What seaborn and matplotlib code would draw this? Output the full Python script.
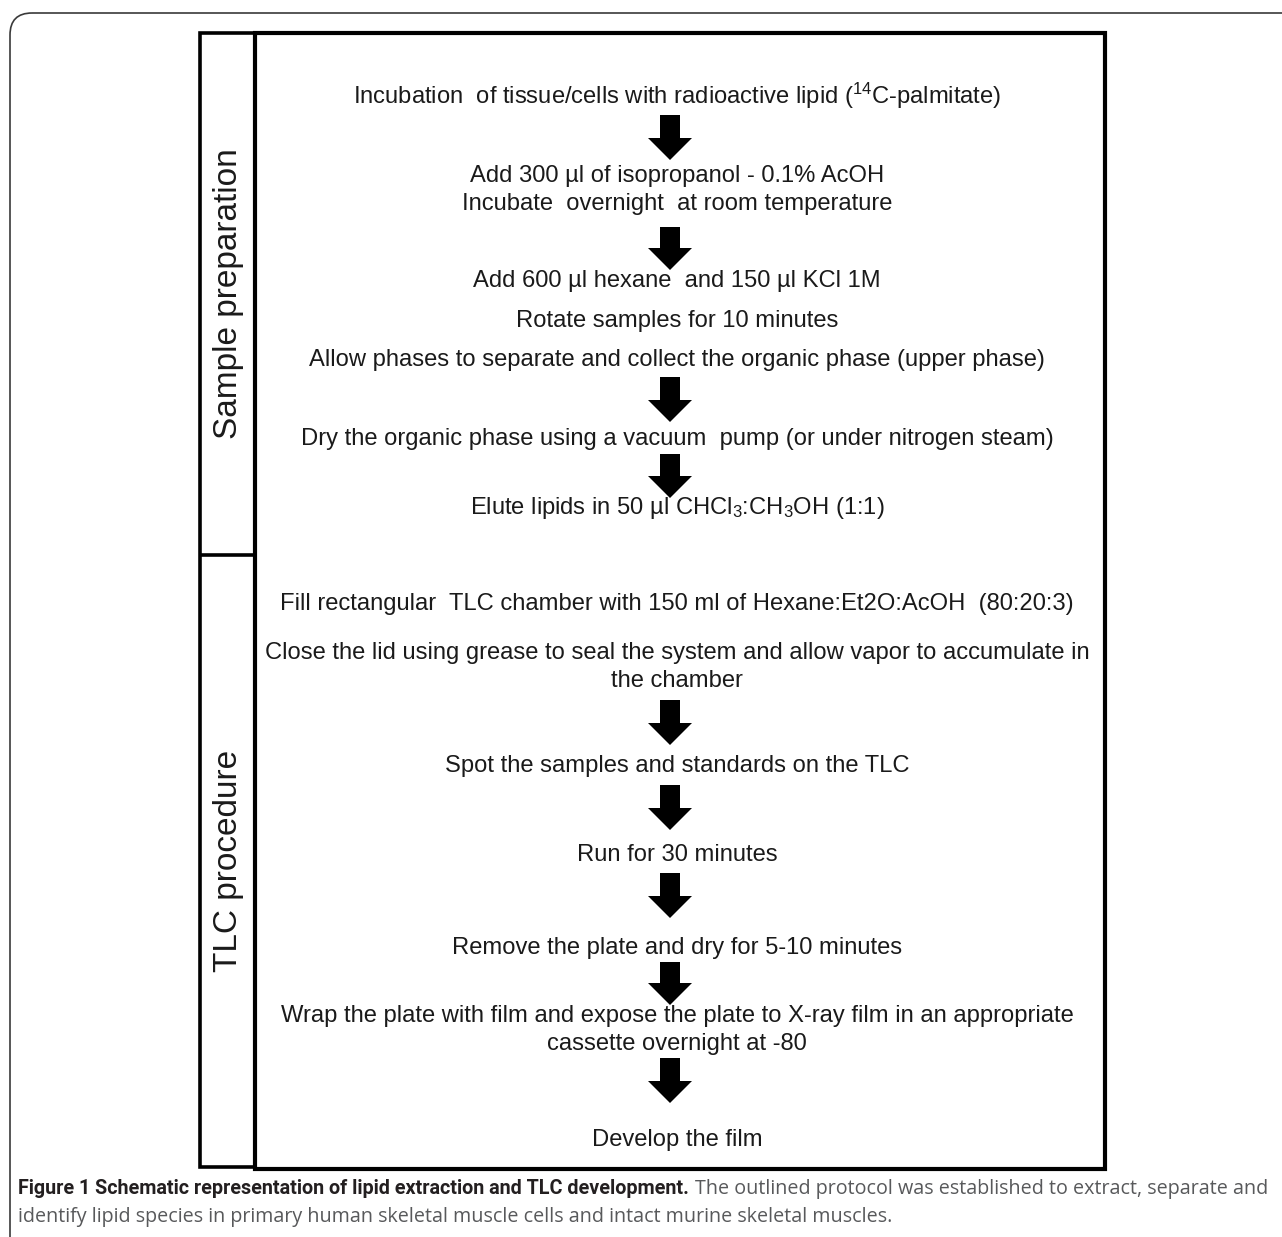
import matplotlib
matplotlib.use("Agg")
import matplotlib.pyplot as plt
import seaborn as sns
from matplotlib.patches import FancyBboxPatch, FancyArrow, Rectangle

# ---------------- content ----------------
section_labels = ["Sample preparation", "TLC procedure"]

sample_steps = [
    "Incubation  of tissue/cells with radioactive lipid ($^{14}$C-palmitate)",
    "Add 300 µl of isopropanol - 0.1% AcOH",
    "Incubate  overnight  at room temperature",
    "Add 600 µl hexane  and 150 µl KCl 1M",
    "Rotate samples for 10 minutes",
    "Allow phases to separate and collect the organic phase (upper phase)",
    "Dry the organic phase using a vacuum  pump (or under nitrogen steam)",
    "Elute lipids in 50 µl CHCl$_3$:CH$_3$OH (1:1)",
]
tlc_steps = [
    "Fill rectangular  TLC chamber with 150 ml of Hexane:Et2O:AcOH  (80:20:3)",
    "Close the lid using grease to seal the system and allow vapor to accumulate in",
    "the chamber",
    "Spot the samples and standards on the TLC",
    "Run for 30 minutes",
    "Remove the plate and dry for 5-10 minutes",
    "Wrap the plate with film and expose the plate to X-ray film in an appropriate",
    "cassette overnight at -80",
    "Develop the film",
]
caption_bold = "Figure 1 Schematic representation of lipid extraction and TLC development."
caption_line1 = "The outlined protocol was established to extract, separate and"
caption_line2 = "identify lipid species in primary human skeletal muscle cells and intact murine skeletal muscles."

# ---------------- layout (pixels) ----------------
W, H = 1282, 1237
sample_y = [96, 176, 204, 281, 321, 360, 439, 508]
tlc_y = [604, 653, 681, 766, 855, 948, 1016, 1044, 1140]
arrow_spans = [(115, 160), (227, 270), (377, 422), (454, 498),
               (700, 745), (785, 830), (873, 918), (962, 1005), (1058, 1103)]
text_cx = 677
arrow_cx = 670

sns.set_theme(style="white")
plt.rcParams["font.family"] = ["Liberation Sans", "DejaVu Sans"]
plt.rcParams["mathtext.fontset"] = "custom"
plt.rcParams["mathtext.rm"] = "Liberation Sans"
plt.rcParams["mathtext.it"] = "Liberation Sans:italic"
plt.rcParams["mathtext.bf"] = "Liberation Sans:bold"

fig = plt.figure(figsize=(W / 100, H / 100), dpi=100)
ax = fig.add_axes([0, 0, 1, 1])
ax.set_xlim(0, W)
ax.set_ylim(H, 0)
ax.axis("off")
renderer = fig.canvas.get_renderer()

def width_of(t):
    return t.get_window_extent(renderer=renderer).width

def fit_width(t, target):
    t.set_fontsize(t.get_fontsize() * target / width_of(t))

# outer rounded frame
outer = FancyBboxPatch((10, 13), W + 40, H + 40,
                       boxstyle="round,pad=0,rounding_size=22",
                       fill=False, ec="#3a3a3a", lw=1.2)
ax.add_patch(outer)

# main box
ax.add_patch(Rectangle((255, 33), 850, 1136, fill=False, ec="black", lw=3.0))
ax.add_patch(Rectangle((200, 33), 55, 1134, fill=False, ec="black", lw=2.6))
ax.plot([200, 255], [555, 555], color="black", lw=2.6, solid_capstyle="butt")

# section labels
t1 = ax.text(228, 294, section_labels[0], rotation=90, ha="center", va="center",
             fontsize=20, color="#1a1a1a")
bb = t1.get_window_extent(renderer=renderer)
t1.set_fontsize(t1.get_fontsize() * 290 / bb.height)
t2 = ax.text(228, 861, section_labels[1], rotation=90, ha="center", va="center",
             fontsize=t1.get_fontsize(), color="#1a1a1a")

# steps
ref = ax.text(text_cx, tlc_y[1], tlc_steps[1], ha="center", va="center",
              fontsize=14, color="#1a1a1a")
fit_width(ref, 831)
fs = ref.get_fontsize()
ref.remove()

for txt, y in zip(sample_steps + tlc_steps, sample_y + tlc_y):
    ax.text(text_cx, y, txt, ha="center", va="center", fontsize=fs, color="#1a1a1a")

for y0, y1 in arrow_spans:
    ax.add_patch(FancyArrow(arrow_cx, y0, 0, y1 - y0, width=20, head_width=44,
                            head_length=22, length_includes_head=True,
                            color="black", lw=0))

# caption: bold lead-in + regular text at one common size, filling the line
cap_fam_b = ["Roboto", "Open Sans", "DejaVu Sans"]
cap_fam_r = ["Open Sans", "DejaVu Sans"]
base = 13.0
cap_b = ax.text(18, 1189, caption_bold, ha="left", va="center", fontsize=base,
                fontweight="bold", color="#231f20", family=cap_fam_b)
cap_r = ax.text(18, 1189, caption_line1, ha="left", va="center", fontsize=base,
                color="#58595b", family=cap_fam_r)
gap = 0.33 * base * 100 / 72
total = width_of(cap_b) + width_of(cap_r) + gap
cfs = base * (1265 - 18) / total
cap_b.set_fontsize(cfs)
cap_r.set_fontsize(cfs)
cap_r.set_x(18 + width_of(cap_b) + 0.33 * cfs * 100 / 72)
ax.text(18, 1217, caption_line2, ha="left", va="center", fontsize=cfs,
        color="#58595b", family=cap_fam_r)

fig.savefig("out.png", dpi=100, facecolor="white")
